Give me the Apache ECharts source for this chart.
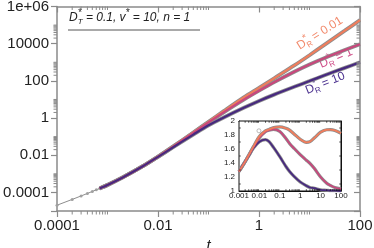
<!DOCTYPE html>
<html><head><meta charset="utf-8">
<script src="https://cdn.jsdelivr.net/npm/echarts@6/dist/echarts.min.js"></script>
<style>html,body{margin:0;padding:0;background:#fff}#c{width:374px;height:248px}</style>
</head><body><div id="c"></div>
<script>
// ---------- data ----------
const tSim = [1e-4, 2e-4, 3e-4, 4e-4, 5e-4, 6e-4, 7e-4, 8e-4, 1e-3];
const msdSim = [2.05e-5, 4.2e-5, 6.45e-5, 8.8e-5, 1.125e-4, 1.38e-4, 1.645e-4, 1.92e-4, 2.5e-4];
const tMain = [7e-4, 1e-3, 2e-3, 5e-3, 0.01, 0.02, 0.05, 0.1, 0.2, 0.5, 1, 2, 5, 10, 20, 50, 100];
const msdDR001 = [1.645e-4, 2.5e-4, 6.4e-4, 2.57e-3, 8.43e-3, 0.0298, 0.167, 0.628, 2.35, 12.9, 41.7, 138, 676, 2400, 8910, 50100, 186000];
const msdDR1   = [1.645e-4, 2.5e-4, 6.4e-4, 2.57e-3, 8.3e-3, 0.0290, 0.160, 0.583, 2.03, 9.77, 29.5, 85.1, 309, 759, 1700, 4570, 9330];
const msdDR10  = [1.645e-4, 2.5e-4, 6.4e-4, 2.57e-3, 8.15e-3, 0.0268, 0.129, 0.407, 1.07, 3.55, 8.32, 18.2, 47.9, 97.7, 200, 501, 1000];

const tInset = [0.001, 0.002, 0.003, 0.005, 0.01, 0.02, 0.03, 0.05, 0.1, 0.2, 0.3, 0.5, 1, 2, 3, 5, 10, 20, 30, 50, 100];
const slopeDR001 = [1.28, 1.42, 1.51, 1.63, 1.78, 1.86, 1.88, 1.905, 1.915, 1.895, 1.87, 1.815, 1.74, 1.695, 1.705, 1.76, 1.84, 1.875, 1.876, 1.865, 1.825];
const slopeDR1   = [1.28, 1.42, 1.51, 1.62, 1.76, 1.85, 1.87, 1.88, 1.85, 1.75, 1.68, 1.61, 1.52, 1.44, 1.395, 1.32, 1.20, 1.11, 1.08, 1.05, 1.03];
const slopeDR10  = [1.28, 1.42, 1.50, 1.61, 1.705, 1.735, 1.705, 1.62, 1.49, 1.35, 1.28, 1.21, 1.13, 1.075, 1.05, 1.04, 1.015, 1.01, 1.005, 1.005, 1.0];
const insetSimPoints = [[0.0095, 1.86]];

const xTickValues = [1e-4, 1e-2, 1, 100];
const xTickLabels = ['0.0001', '0.01', '1', '100'];
const yTickValues = [1e-4, 1e-2, 1, 100, 1e4, 1e6];
const yTickLabels = ['0.0001', '0.01', '1', '100', '10000', '1e+06'];
const xMinorTicks = [2e-4,3e-4,4e-4,5e-4,6e-4,7e-4,8e-4,9e-4,1e-3, 2e-2,3e-2,4e-2,5e-2,6e-2,7e-2,8e-2,9e-2,0.1, 2,3,4,5,6,7,8,9,10];
const yMinorTicks = [2e-4,3e-4,4e-4,5e-4,6e-4,7e-4,8e-4,9e-4,1e-3, 2e-2,3e-2,4e-2,5e-2,6e-2,7e-2,8e-2,9e-2,0.1, 2,3,4,5,6,7,8,9,10, 200,300,400,500,600,700,800,900,1000, 2e4,3e4,4e4,5e4,6e4,7e4,8e4,9e4,1e5];
const insetXTickValues = [0.001, 0.01, 0.1, 1, 10, 100];
const insetXTickLabels = ['0.001', '0.01', '0.1', '1', '10', '100'];
const insetXMinor = [0.002,0.003,0.004,0.005,0.006,0.007,0.008,0.009, 0.02,0.03,0.04,0.05,0.06,0.07,0.08,0.09, 0.2,0.3,0.4,0.5,0.6,0.7,0.8,0.9, 2,3,4,5,6,7,8,9, 20,30,40,50,60,70,80,90];
const insetYMinor = [1.1, 1.3, 1.5, 1.7, 1.9];

const xMin = 1e-4, xMax = 100, yMin = 1e-5, yMax = 1e6;
const ixMin = 0.001, ixMax = 100, iyMin = 1, iyMax = 2;

// ---------- style ----------
const FONT = '"Liberation Sans", Arial, sans-serif';
const AX = '#8a8a8a';
const C_OR = '#f07d5c', C_PK = '#c9477c', C_PU = '#47297f';
const T_OR = '#f28a6c', T_PK = '#d0508a', T_PU = '#4e3491';
const GRAY = '#8e8e8e';

const zip = (a, b) => a.map((v, i) => [v, b[i]]);
function labeler(vals, labs) {
  return function (v) {
    for (let i = 0; i < vals.length; i++) {
      if (Math.abs(Math.log10(v) - Math.log10(vals[i])) < 1e-3) return labs[i];
    }
    return '';
  };
}
function tickSeries(xi, yi, pts, dx, dy, color, w) {
  return {
    type: 'custom', xAxisIndex: xi, yAxisIndex: yi, coordinateSystem: 'cartesian2d',
    silent: true, clip: false, z: 6, data: pts,
    renderItem: function (params, api) {
      const p = api.coord([api.value(0), api.value(1)]);
      return { type: 'line', shape: { x1: p[0], y1: p[1], x2: p[0] + dx, y2: p[1] + dy },
               style: { stroke: color, lineWidth: w } };
    }
  };
}
function lineS(xi, yi, data, color, width, z) {
  return { type: 'line', xAxisIndex: xi, yAxisIndex: yi, data: data, showSymbol: false, symbol: 'none',
           smooth: 0.3, lineStyle: { color: color, width: width }, itemStyle: { color: color },
           z: z, silent: true, animation: false };
}

// text measuring for sub/superscripts
const mctx = document.createElement('canvas').getContext('2d');
function tw(s, size, italic) {
  mctx.font = (italic ? 'italic ' : '') + size + 'px "Liberation Sans"';
  return mctx.measureText(s).width;
}
// pieces: [text, size, dy, advance]
function richGroup(x, y, rot, pieces, color, italic) {
  const children = [];
  let cx = 0, pendingMax = 0;
  pieces.forEach(p => {
    const [t, size, dy, adv] = p;
    children.push({ type: 'text', x: cx, y: dy,
      style: { text: t, fontSize: size, fontFamily: FONT, fontStyle: italic ? 'italic' : 'normal',
               fill: color, textAlign: 'left', textVerticalAlign: 'middle', align: 'left', verticalAlign: 'middle' } });
    const w = tw(t, size, italic);
    if (adv === false) { pendingMax = Math.max(pendingMax, w); }
    else { cx += Math.max(w, pendingMax); pendingMax = 0; }
  });
  return { type: 'group', x: x, y: y, rotation: rot, silent: true, children: children, z: 20 };
}

const chart = echarts.init(document.getElementById('c'), null, { renderer: 'canvas' });

const mainX = (pos, inside, showLab) => ({
  type: 'log', logBase: 100, gridIndex: 0, min: xMin, max: xMax, position: pos,
  axisLine: { show: true, onZero: false, lineStyle: { color: AX, width: 1.5 } },
  axisTick: { show: true, inside: inside, length: 6, lineStyle: { color: AX, width: 1.2 } },
  minorTick: { show: false }, splitLine: { show: false },
  axisLabel: { show: showLab, formatter: labeler(xTickValues, xTickLabels), fontSize: 15, color: '#222',
               fontFamily: FONT, margin: 7, showMinLabel: true, showMaxLabel: true, hideOverlap: false }
});
const mainY = (pos, inside, showLab) => ({
  type: 'log', logBase: 100, gridIndex: 0, min: yMin, max: yMax, position: pos,
  axisLine: { show: true, onZero: false, lineStyle: { color: AX, width: 1.5 } },
  axisTick: { show: true, inside: inside, length: 6, lineStyle: { color: AX, width: 1.2 } },
  minorTick: { show: false }, splitLine: { show: false },
  axisLabel: { show: showLab, formatter: labeler(yTickValues, yTickLabels), fontSize: 15, color: '#222',
               fontFamily: FONT, margin: 8, showMinLabel: true, showMaxLabel: true, hideOverlap: false }
});
const insetX = (pos, showLab) => ({
  type: 'log', logBase: 10, gridIndex: 1, min: ixMin, max: ixMax, position: pos,
  axisLine: { show: true, onZero: false, lineStyle: { color: '#111', width: 1 } },
  axisTick: { show: true, inside: true, length: 3, lineStyle: { color: '#111', width: 0.8 } },
  minorTick: { show: false }, splitLine: { show: false },
  axisLabel: { show: showLab, formatter: labeler(insetXTickValues, insetXTickLabels), fontSize: 8, color: '#222',
               fontFamily: FONT, margin: 1, showMinLabel: true, showMaxLabel: true, hideOverlap: false }
});
const insetY = (pos, showLab) => ({
  type: 'value', gridIndex: 1, min: iyMin, max: iyMax, interval: 0.2, position: pos,
  axisLine: { show: true, onZero: false, lineStyle: { color: '#111', width: 1 } },
  axisTick: { show: true, inside: true, length: 3, lineStyle: { color: '#111', width: 0.8 } },
  minorTick: { show: false }, splitLine: { show: false },
  axisLabel: { show: showLab, fontSize: 8, color: '#222', fontFamily: FONT, margin: 4 }
});

const xAxes = [mainX('bottom', false, true), mainX('top', true, false), insetX('bottom', true), insetX('top', false)];
xAxes[0].name = 't'; xAxes[0].nameLocation = 'middle'; xAxes[0].nameGap = 21;
xAxes[0].nameTextStyle = { fontStyle: 'italic', fontSize: 15, color: '#222', fontFamily: FONT };
const yAxes = [mainY('left', false, true), mainY('right', true, false), insetY('left', true), insetY('right', false)];
yAxes[0].name = 'MSD'; yAxes[0].nameLocation = 'middle'; yAxes[0].nameGap = 41;
yAxes[0].nameTextStyle = { fontSize: 15, color: '#222', fontFamily: FONT };

const series = [
  // main: simulation (short times) and outlines
  { type: 'line', xAxisIndex: 0, yAxisIndex: 0, data: zip(tSim, msdSim), symbol: 'circle', symbolSize: 3,
    showSymbol: true, lineStyle: { color: GRAY, width: 1 }, itemStyle: { color: '#a0a0a0' }, z: 3, silent: true },
  lineS(0, 0, zip(tMain, msdDR001), GRAY, 3.8, 3),
  lineS(0, 0, zip(tMain, msdDR1), GRAY, 3.8, 3),
  lineS(0, 0, zip(tMain, msdDR10), GRAY, 3.8, 3),
  lineS(0, 0, zip(tMain, msdDR001), C_OR, 2.2, 4),
  lineS(0, 0, zip(tMain, msdDR1), C_PK, 2.2, 4),
  lineS(0, 0, zip(tMain, msdDR10), C_PU, 2.2, 4),
  // inset
  lineS(2, 2, zip(tInset, slopeDR10), GRAY, 3.2, 7),
  lineS(2, 2, zip(tInset, slopeDR1), GRAY, 3.2, 7),
  lineS(2, 2, zip(tInset, slopeDR001), GRAY, 3.2, 7),
  lineS(2, 2, zip(tInset, slopeDR10), C_PU, 1.8, 8),
  lineS(2, 2, zip(tInset, slopeDR1), C_PK, 1.8, 8),
  lineS(2, 2, zip(tInset, slopeDR001), C_OR, 1.8, 8),
  { type: 'scatter', xAxisIndex: 2, yAxisIndex: 2, data: insetSimPoints, symbol: 'circle', symbolSize: 4,
    itemStyle: { color: 'rgba(0,0,0,0)', borderColor: '#aaa', borderWidth: 1 }, z: 9, silent: true },
  // minor ticks main
  tickSeries(0, 0, xMinorTicks.map(v => [v, yMin]), 0, 3.5, AX, 1),
  tickSeries(0, 0, xMinorTicks.map(v => [v, yMax]), 0, 3.5, AX, 1),
  tickSeries(0, 0, yMinorTicks.map(v => [xMin, v]), -3.5, 0, AX, 1),
  tickSeries(0, 0, yMinorTicks.map(v => [xMax, v]), -3.5, 0, AX, 1),
  // minor ticks inset
  tickSeries(2, 2, insetXMinor.map(v => [v, iyMin]), 0, -1.8, '#111', 0.7),
  tickSeries(2, 2, insetXMinor.map(v => [v, iyMax]), 0, 1.8, '#111', 0.7),
  tickSeries(2, 2, insetYMinor.map(v => [ixMin, v]), 1.8, 0, '#111', 0.7),
  tickSeries(2, 2, insetYMinor.map(v => [ixMax, v]), -1.8, 0, '#111', 0.7)
];
series.forEach(s => { s.animation = false; });
series.slice(7, 14).forEach(s => { s.z = (s.z || 2) + 10; });
series.slice(18).forEach(s => { s.z = 25; });

const graphic = [
  richGroup(69, 18, 0, [['D', 12, 0], ['*', 10, -5, false], ['T', 8, 4], [' = 0.1, v', 12, 0], ['*', 10, -5], [' = 10, n = 1', 12, 0]], '#222', true),
  { type: 'line', shape: { x1: 68, y1: 30, x2: 200, y2: 30 }, style: { stroke: '#555', lineWidth: 1 }, silent: true, z: 20 },
  richGroup(298, 47, 32 * Math.PI / 180, [['D', 12, 0], ['*', 10, -4, false], ['R', 8, 4], [' = 0.01', 12, 0]], T_OR, false),
  richGroup(320, 65, 23 * Math.PI / 180, [['D', 12, 0], ['*', 10, -4, false], ['R', 8, 4], [' = 1', 12, 0]], T_PK, false),
  richGroup(306, 91, 22 * Math.PI / 180, [['D', 12, 0], ['*', 10, -4, false], ['R', 8, 4], [' = 10', 12, 0]], T_PU, false)
];

chart.setOption({
  animation: false,
  backgroundColor: '#fff',
  grid: [
    { left: 57, right: 14, top: 6.5, bottom: 37, containLabel: false, outerBoundsMode: 'none' },
    { left: 239, top: 121, width: 102, height: 70, containLabel: false, outerBoundsMode: 'none',
      show: true, backgroundColor: '#fff', borderColor: '#111', borderWidth: 1, z: 9 }
  ],
  xAxis: xAxes,
  yAxis: yAxes,
  series: series,
  graphic: graphic
});
</script>
</body></html>
